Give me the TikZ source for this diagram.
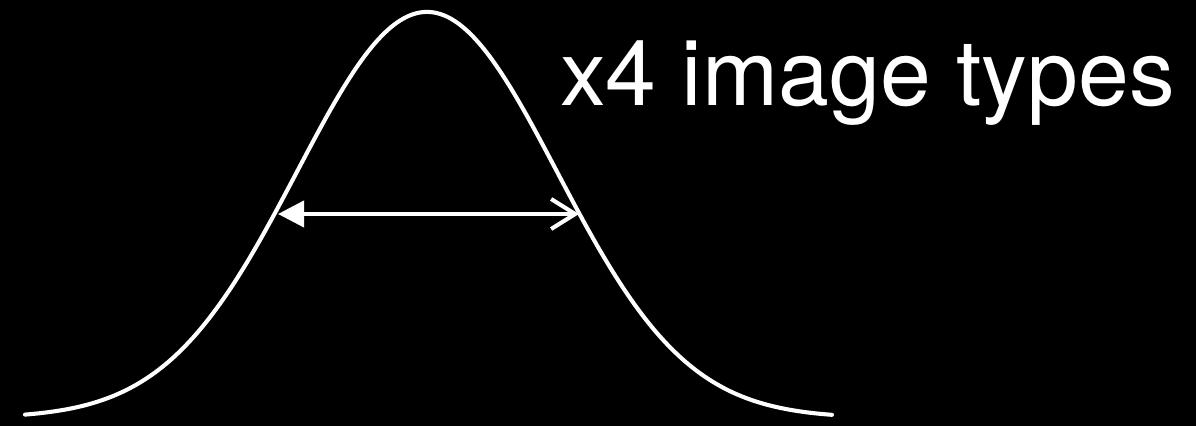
\documentclass[tikz,border=0pt]{standalone}
\usepackage{fontspec}
\setmainfont{TeX Gyre Heros}
\usetikzlibrary{arrows.meta}

\begin{document}
\begin{tikzpicture}[x=0.025cm, y=-0.025cm, line width=2.9pt]
  % Background and frame
  \fill[black] (0,0) rectangle (1196,426);
  \useasboundingbox (0,0) rectangle (1196,426);

  % Bell curve
  \draw[white, line cap=round, line join=round]
    plot[domain=25:832, samples=160, smooth]
    (\x, {418 - 406*exp(-0.5*((\x-427)/130)^2)});

  % Width arrow
  \coordinate (lft) at (278,214);
  \coordinate (rgt) at (579,214);
  \draw[white, {Triangle[length=0.65cm, width=0.65cm]}-{Straight Barb[length=0.6cm, width=0.75cm]}]
    (lft) -- (rgt);

  % Label
  \node[white, anchor=base west, inner sep=0pt, font=\fontsize{65}{72}\selectfont]
    (types) at (558,106) {x4 image types};
\end{tikzpicture}
\end{document}
